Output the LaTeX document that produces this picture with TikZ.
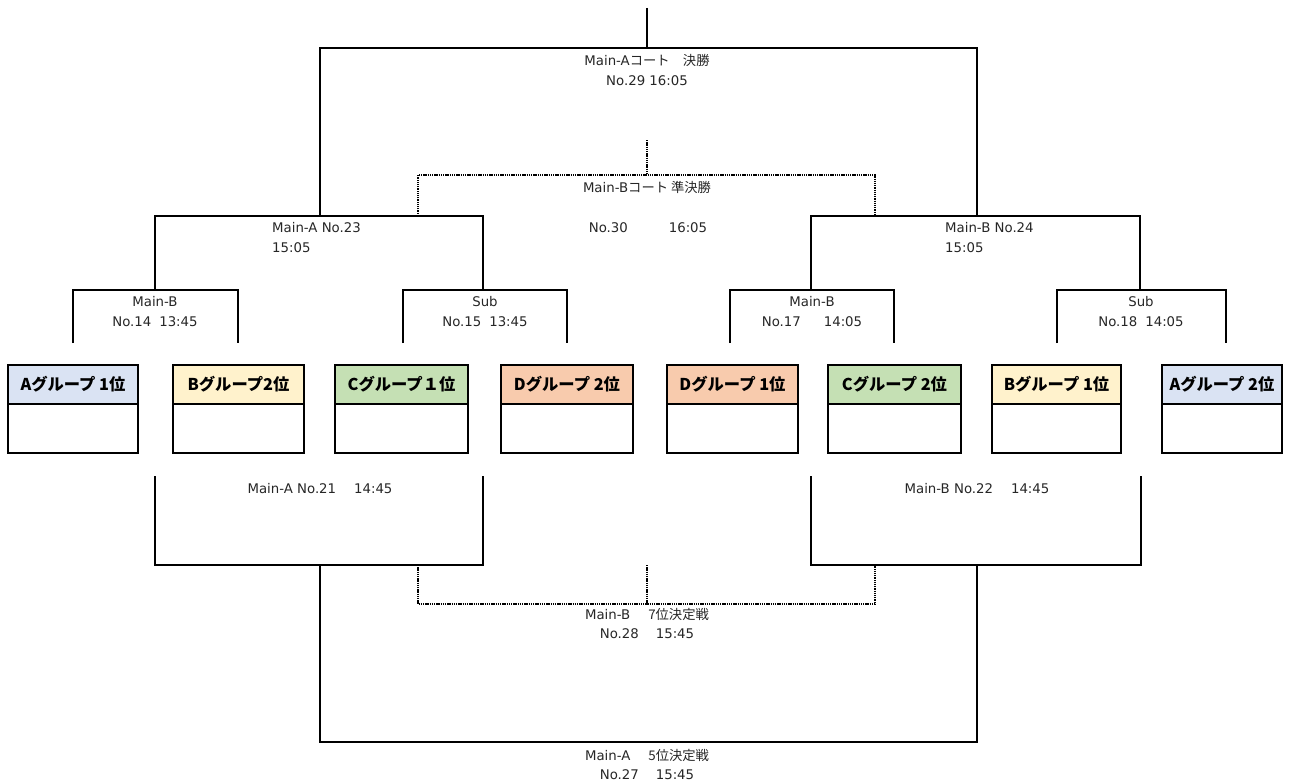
\documentclass[tikz,border=0pt]{standalone}
\usepackage{fontspec}
\setmainfont{DejaVu Sans}
\newfontfamily\jp{Noto Sans CJK JP}
\definecolor{ga}{HTML}{DAE3F3}
\definecolor{gb}{HTML}{FFF2CC}
\definecolor{gc}{HTML}{C5E0B4}
\definecolor{gd}{HTML}{F8CBAD}
\begin{document}
\begin{tikzpicture}[x=1pt,y=-1pt,
  br/.style={line width=2pt},
  dt/.style={line width=1.6pt, dash pattern=on 1.3pt off 0.9pt},
  lbl/.style={font=\fontsize{13.3}{16}\selectfont, text=black!85, inner sep=0pt},
  hd/.style={draw, line width=2pt, minimum height=39pt, anchor=north west, inner sep=0pt, outer sep=0pt,
    font=\jp\bfseries\fontsize{16.3}{18}\selectfont},
  bd/.style={draw, line width=2pt, minimum height=49pt, anchor=north west, inner sep=0pt, outer sep=0pt}]
\useasboundingbox (0,0) rectangle (1293,784);

% team boxes
\node[hd, fill=ga, minimum width=130pt] (h1) at (8,365) {Aグループ 1位};
\node[bd, minimum width=130pt] (b1) at (h1.south west) {};
\node[hd, fill=gb, minimum width=131pt] (h2) at (173,365) {Bグループ2位};
\node[bd, minimum width=131pt] (b2) at (h2.south west) {};
\node[hd, fill=gc, minimum width=133pt] (h3) at (335,365) {Cグループ１位};
\node[bd, minimum width=133pt] (b3) at (h3.south west) {};
\node[hd, fill=gd, minimum width=132pt] (h4) at (501,365) {Dグループ 2位};
\node[bd, minimum width=132pt] (b4) at (h4.south west) {};
\node[hd, fill=gd, minimum width=131pt] (h5) at (667,365) {Dグループ 1位};
\node[bd, minimum width=131pt] (b5) at (h5.south west) {};
\node[hd, fill=gc, minimum width=133pt] (h6) at (828,365) {Cグループ 2位};
\node[bd, minimum width=133pt] (b6) at (h6.south west) {};
\node[hd, fill=gb, minimum width=129pt] (h7) at (992,365) {Bグループ 1位};
\node[bd, minimum width=129pt] (b7) at (h7.south west) {};
\node[hd, fill=ga, minimum width=120pt] (h8) at (1162,365) {Aグループ 2位};
\node[bd, minimum width=120pt] (b8) at (h8.south west) {};

% junction coordinates (top half)
\coordinate (top) at (647,8);
\coordinate (f) at (647,48);
\coordinate (s1) at (155,216);
\coordinate (s2) at (483,216);
\coordinate (s3) at (811,216);
\coordinate (s4) at (1140,216);
\coordinate (sa) at (320,216);
\coordinate (sb) at (977,216);
\coordinate (dtop) at (647,140);
\coordinate (dl) at (418,216);
\coordinate (dr) at (875,216);

% final No.29
\draw[br] (top) -- (f);
\draw[br] (sa) |- (f) -| (sb);
% semis No.23 / No.24
\draw[br] (s1 |- 290,290) -- (s1) -- (s2) -- (s2 |- 290,290);
\draw[br] (s3 |- 290,290) -- (s3) -- (s4) -- (s4 |- 290,290);
% No.30 dotted
\draw[dt] (dl) |- (dtop |- 0,175) -| (dr);
\draw[dt] (dtop) -- (dtop |- 0,175);
% first round
\draw[br] (73,343) |- (238,290) -- (238,343);
\draw[br] (403,343) |- (567,290) -- (567,343);
\draw[br] (730,343) |- (894,290) -- (894,343);
\draw[br] (1057,343) |- (1226,290) -- (1226,343);

% bottom half
\coordinate (c1) at (155,476);
\coordinate (c2) at (483,476);
\coordinate (c3) at (811,476);
\coordinate (c4) at (1141,476);
\draw[br] (c1) |- (c2 |- 0,565) -- (c2);
\draw[br] (c3) |- (c4 |- 0,565) -- (c4);
\draw[br] (320,565) |- (977,742) -- (977,565);
\draw[dt] (418,565) |- (875,604) -- (875,565);
\draw[dt] (647,565) -- (647,604);

% labels
\node[lbl, anchor=base] (l29a) at (647,66) {Main-A{\jp コート　決勝}};
\node[lbl, anchor=base] (l29b) at (647,85) {No.29 16:05};
\node[lbl, anchor=base] (l30a) at (647,192) {Main-B{\jp コート 準決勝}};
\node[lbl, anchor=base] (l30b) at (648,232) {No.30\hspace{41pt}16:05};
\node[lbl, anchor=base west] (l23a) at (272,232) {Main-A No.23};
\node[lbl, anchor=base west] (l23b) at (272,252) {15:05};
\node[lbl, anchor=base west] (l24a) at (945,232) {Main-B No.24};
\node[lbl, anchor=base west] (l24b) at (945,252) {15:05};
\node[lbl, anchor=base] (l14a) at (155,306.7) {Main-B};
\node[lbl, anchor=base] (l14b) at (155,326.7) {No.14\hspace{8pt}13:45};
\node[lbl, anchor=base] (l15a) at (485,306.7) {Sub};
\node[lbl, anchor=base] (l15b) at (485,326.7) {No.15\hspace{8pt}13:45};
\node[lbl, anchor=base] (l17a) at (812,306.7) {Main-B};
\node[lbl, anchor=base] (l17b) at (812,326.7) {No.17\hspace{23pt}14:05};
\node[lbl, anchor=base] (l18a) at (1141,306.7) {Sub};
\node[lbl, anchor=base] (l18b) at (1141,326.7) {No.18\hspace{8pt}14:05};
\node[lbl, anchor=base] (l21) at (320,493) {Main-A No.21\hspace{18pt}14:45};
\node[lbl, anchor=base] (l22) at (977,493) {Main-B No.22\hspace{18pt}14:45};
\node[lbl, anchor=base] (l28a) at (647,619) {Main-B\hspace{18pt}{\jp 7位決定戦}};
\node[lbl, anchor=base] (l28b) at (647,638) {No.28\hspace{17pt}15:45};
\node[lbl, anchor=base] (l27a) at (647,760) {Main-A\hspace{18pt}{\jp 5位決定戦}};
\node[lbl, anchor=base] (l27b) at (647,779) {No.27\hspace{17pt}15:45};
\end{tikzpicture}
\end{document}
